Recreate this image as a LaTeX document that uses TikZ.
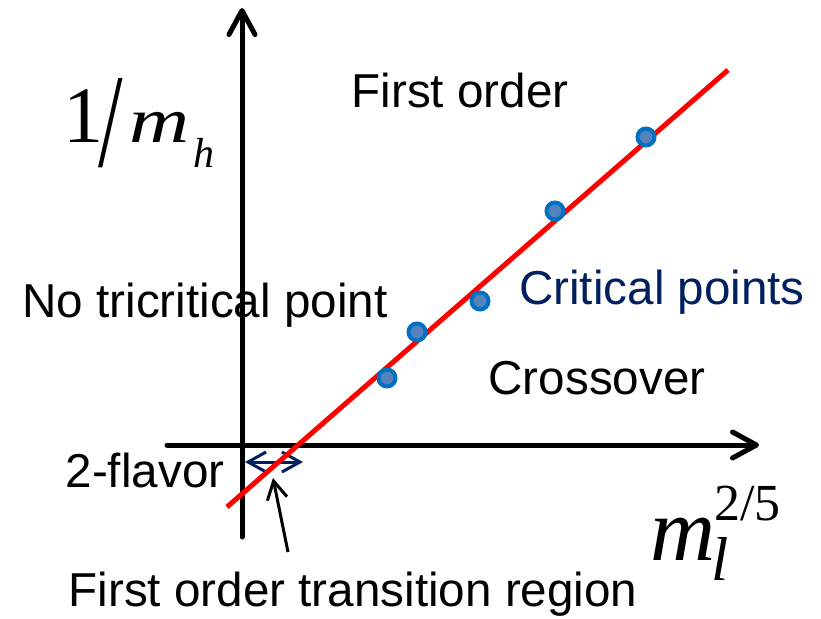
\documentclass[tikz,border=0pt]{standalone}
\usepackage{fontspec}
\setmainfont{Liberation Sans}
\newfontfamily\timesfont{Liberation Serif}
\usetikzlibrary{arrows.meta}
\definecolor{critnavy}{RGB}{0,32,96}
\definecolor{ptblue}{RGB}{0,112,192}
\definecolor{ptfill}{RGB}{84,130,190}

\begin{document}
\begin{tikzpicture}[x=0.5pt,y=-0.5pt,
    lbl/.style={font=\fontsize{23.8}{28}\selectfont,inner sep=0pt},
    axis/.style={line width=2.5pt,line cap=round,line join=round,
                 -{Straight Barb[length=12pt,width=13pt,round]}},
    span/.style={critnavy,line width=1.5pt,
                 {Straight Barb[length=9pt,width=10pt]}-{Straight Barb[length=9pt,width=10pt]}},
    pointer/.style={line width=1.5pt,-{Straight Barb[length=9pt,width=10pt]}},
    critpt/.style={circle,draw=ptblue,fill=ptfill,line width=2pt,
                   minimum size=8.5pt,inner sep=0pt}]

    \useasboundingbox (0,0) rectangle (821,618);

    % axes
    \coordinate (ybot) at (242,537);
    \coordinate (ytop) at (242,8);
    \coordinate (xleft) at (167,445);
    \coordinate (xright) at (759,445);
    \draw[axis] (ybot) -- (ytop);
    \draw[axis] (xleft) -- (xright);

    % first order region at small masses
    \coordinate (regl) at (245,462);
    \coordinate (regr) at (303,462);
    \draw[span] (regl) -- (regr);

    % line of critical points
    \coordinate (lines) at (227,507);
    \coordinate (linee) at (728,70);
    \draw[red,line width=2.5pt] (lines) -- (linee);

    \node[critpt] (p1) at (387,378) {};
    \node[critpt] (p2) at (417,332) {};
    \node[critpt] (p3) at (480,301) {};
    \node[critpt] (p4) at (555,211) {};
    \node[critpt] (p5) at (646,137) {};

    % labels
    \node[lbl] (first) at (460,90) {First order};
    \node[lbl] (notri) at (205,305) {No tricritical point};
    \node[lbl,text=critnavy] (crit) at (662,292) {Critical points};
    \node[lbl] (cross) at (597,378) {Crossover};
    \node[lbl] (twofl) at (145,470) {2-flavor};
    \node[lbl] (trans) at (353,594) {First order transition region};

    \node[anchor=base west,inner sep=0pt] (ylab) at (63,142)
      {\timesfont\fontsize{40}{40}\selectfont
       1\hspace{-2.5pt}\raisebox{-12pt}{\scalebox{1.1}[1.67]{/}}\hspace{3.5pt}%
       \scalebox{1.3}[1]{\fontsize{32}{32}\selectfont\textit{m}}\hspace{2pt}%
       \raisebox{-12.5pt}{\fontsize{21}{21}\selectfont\textit{h}}};
    \node[anchor=base west,inner sep=0pt] (xlab) at (650,560)
      {\timesfont\fontsize{45}{45}\selectfont
       \textit{m}\hspace{-2pt}\rlap{\raisebox{-10pt}{\fontsize{31}{31}\selectfont\textit{l}}}%
       \hspace{1.5pt}\raisebox{20pt}{\fontsize{26}{26}\selectfont 2/5}};

    \coordinate (ptail) at (288,552);
    \coordinate (phead) at (273,478);
    \draw[pointer] (ptail) -- (phead);
\end{tikzpicture}
\end{document}
